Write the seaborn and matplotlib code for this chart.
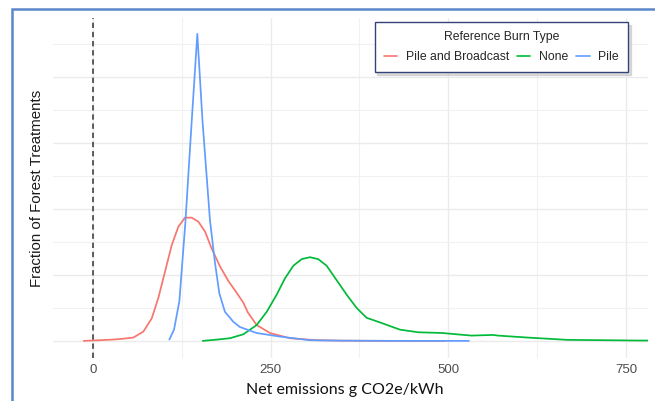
import matplotlib
matplotlib.use('Agg')
import matplotlib.pyplot as plt
import matplotlib.patches as mpatches
from matplotlib.ticker import MultipleLocator, NullFormatter
import pandas as pd
import numpy as np
import seaborn as sns

burn_types = ['Pile and Broadcast', 'None', 'Pile']
colors = ['#F8766D', '#00BA38', '#619CFF']

# values (density of net emissions)
pb_x = [-13, 10, 28, 40, 56.7, 70.8, 82.6, 91.9, 101.3, 110.7, 120, 129.4, 138.8, 148.2,
        157.6, 167, 178.7, 190.4, 202.2, 211.5, 218, 230.3, 249, 277, 314.7, 350, 392, 450, 495]
pb_y = [0, 0.0001, 0.0002, 0.0003, 0.0005, 0.0014, 0.0034, 0.0065, 0.0105, 0.0145, 0.0173,
        0.0187, 0.0187, 0.0181, 0.0166, 0.014, 0.0113, 0.0091, 0.0073, 0.0058, 0.0043, 0.0024,
        0.0012, 0.0004, 0.0001, 0.00004, 0.00001, 0, 0]

none_x = [154.5, 175, 192.8, 211.5, 230.3, 244.4, 258.4, 270.2, 281.9, 293.6, 305.3, 317,
          328.8, 342.9, 357, 371, 385, 403.8, 432, 458, 490.5, 532.5, 563, 570, 612, 668,
          720, 766, 790]
none_y = [0, 0.0002, 0.0004, 0.001, 0.0024, 0.0044, 0.007, 0.0095, 0.0114, 0.0124, 0.0127,
          0.0124, 0.0114, 0.0092, 0.007, 0.005, 0.0035, 0.0028, 0.0017, 0.0013, 0.0012,
          0.0008, 0.0009, 0.0008, 0.0005, 0.00015, 0.0001, 0.00005, 0.00005]

pile_x = [107.4, 114, 121.5, 130, 139, 146.8, 154, 164.6, 171.7, 177.8, 185.7, 192.8, 197.4,
          206.8, 230, 263, 305, 350, 420, 529]
pile_y = [0.0002, 0.0017, 0.006, 0.018, 0.0335, 0.0466, 0.0335, 0.0183, 0.0118, 0.0072,
          0.0044, 0.0035, 0.0029, 0.0021, 0.0012, 0.00065, 0.0001, 0.00003, 0, 0]

frames = []
for name, xs, ys in zip(burn_types, [pb_x, none_x, pile_x], [pb_y, none_y, pile_y]):
    frames.append(pd.DataFrame({'emissions': xs, 'density': ys, 'Reference Burn Type': name}))
df = pd.concat(frames, ignore_index=True)

sns.set_theme(style='white')
plt.rcParams['font.family'] = ['Liberation Sans', 'DejaVu Sans']

fig = plt.figure(figsize=(6.55, 4.01), dpi=100)
ax = fig.add_axes([53/655, 43/401, 595/655, 340/401])

ax.xaxis.set_major_locator(MultipleLocator(250))
ax.xaxis.set_minor_locator(MultipleLocator(125))
ax.yaxis.set_major_locator(MultipleLocator(0.01))
ax.yaxis.set_minor_locator(MultipleLocator(0.005))
ax.grid(which='major', color='#EBEBEB', lw=1.0)
ax.grid(which='minor', color='#F1F1F1', lw=0.8)
ax.set_axisbelow(True)

sns.lineplot(data=df, x='emissions', y='density', hue='Reference Burn Type',
             hue_order=burn_types, palette=dict(zip(burn_types, colors)),
             estimator=None, sort=False, lw=1.25, ax=ax)
ax.axvline(0, color='#333333', lw=1.1, ls=(0, (3.5, 2.5)), zorder=3)

ax.set_xlim(-56.3, 781)
ax.set_ylim(-0.0026, 0.049)
for s in ax.spines.values():
    s.set_visible(False)
ax.tick_params(axis='both', which='both', length=0, pad=4)
ax.tick_params(axis='x', labelsize=9.5, labelcolor='#4D4D4D')
ax.yaxis.set_major_formatter(NullFormatter())

ax.set_xlabel('Net emissions g CO2e/kWh', family=['Lato', 'DejaVu Sans'], fontsize=11.5, color='#111111')
ax.xaxis.set_label_coords(0.49, -0.095)
ax.xaxis.label.set_va('center')
ax.set_ylabel('Fraction of Forest Treatments', fontsize=10.8, color='#1A1A1A')
ax.yaxis.set_label_coords(-0.027, 0.5)
ax.yaxis.label.set_va('center')

handles, labels = ax.get_legend_handles_labels()
ax.get_legend().remove()
leg = ax.legend(handles, labels, title='Reference Burn Type', ncol=3,
                loc='upper right', bbox_to_anchor=(628/655, 1 - 22/401),
                bbox_transform=fig.transFigure, borderaxespad=0,
                fontsize=8.8, title_fontsize=8.8,
                frameon=True, fancybox=False, shadow={'color': '#BBBBBB', 'alpha': 0.5},
                handlelength=1.1, handletextpad=0.7, columnspacing=0.65,
                borderpad=0.75, labelspacing=0.65)
leg.get_frame().set_edgecolor('#34437A')
leg.get_frame().set_linewidth(1.0)
for line in leg.get_lines():
    line.set_linewidth(1.2)

# blue frame around the figure
fig.patches.append(mpatches.Rectangle((12/655, -0.1), 1.1, 1.1 - 9/401,
                                      transform=fig.transFigure, fill=False,
                                      edgecolor='#5B87C9', lw=1.8, zorder=10))

fig.savefig('out.png', dpi=100)
